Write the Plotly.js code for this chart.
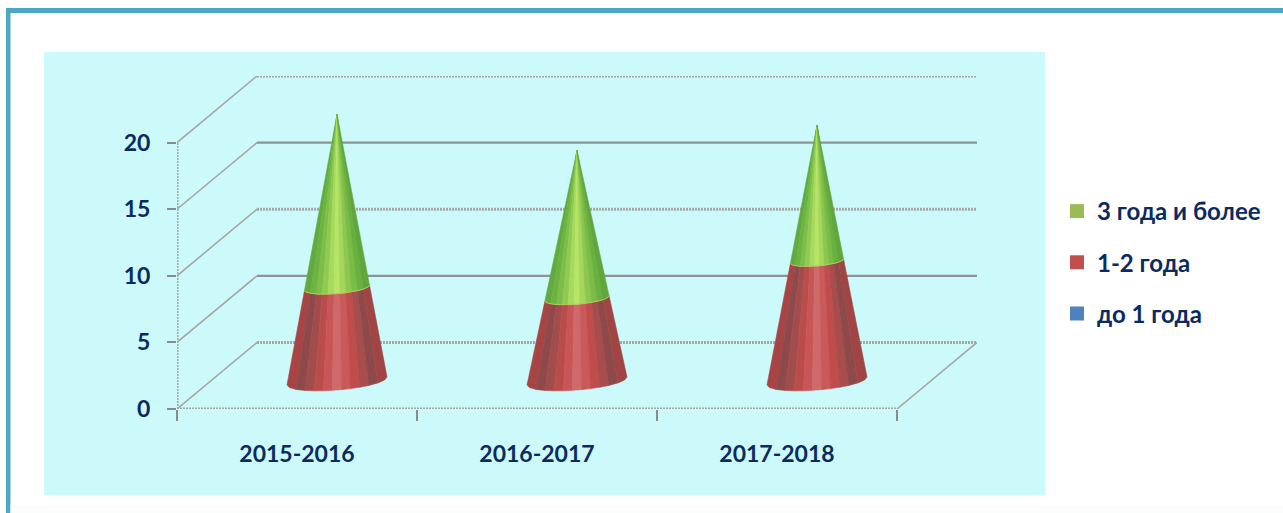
<!DOCTYPE html>
<html><head><meta charset="utf-8">
<script src="https://cdn.plot.ly/plotly-3.0.1.min.js"></script>
<style>html,body{margin:0;padding:0;background:#fff}</style></head>
<body><div id="chart" style="width:1283px;height:513px"></div>
<script>
const categories = ['2015-2016','2016-2017','2017-2018'];
const under1 = [0,0,0];
const oneToTwo = [7,6.2,9];
const threePlus = [13,11.1,10.2];
const yTicks = [0,5,10,15,20];
const seriesNames = ['3 года и более','1-2 года','до 1 года'];
const legendColors = ['#9bbb59','#c0504d','#4f81bd'];
const redShade = ['#a84444','#8e4a4a','#a24c4c','#bb4c4c','#c85656','#cf6a6a','#ca5a5a','#c04c4c','#a84c4c','#8e4a4a','#a04444'];
const greenShade = ['#62aa3e','#6cb342','#7cbe48','#90cb50','#a6da5c','#b8e466','#a4d85a','#8dc84e','#7abc46','#6ab041','#61a63c'];

const W=1283,H=513,L=177,R=977,T=76,B=409;
const xr=[0,(R-L)/240], yr=[0,25];
const unit=(B-T)/25;
const dx=80/240, dy=5;             // depth of the 3-D box, in axis units
const coneOffX=dx/2, baseY=2.1;
const Rx=50/240, By=9/unit, tilt=4/unit;
const navy='#0b2a60', wavy='#a6a6a6', solid='#8d9394';

const traces=[];
function line(x,y,color,width,dash){
  traces.push({type:'scatter',mode:'lines',x,y,showlegend:false,hoverinfo:'skip',cliponaxis:false,
    line:{color,width,dash:dash||'solid'}});
}
// back wall
[5,10,15,20,25].forEach((v,i)=>{
  if(i%2===0) line([dx,xr[1]+0.012],[v,v],wavy,3,'2px,1px');
  else line([dx,xr[1]],[v,v],solid,2.2);
});
// side wall diagonals
yTicks.forEach(v=>line([0,dx],[v,v+dy],wavy,1.6));
// floor and front axes
line([0,0],[0,20],wavy,3,'2px,1px');
line([0,categories.length],[0,0],wavy,3,'2px,1px');
line([categories.length,xr[1]],[0,dy],wavy,1.6);

function conePoint(cx,total,t,v){
  const f=1-v/total;
  return [cx+coneOffX+Rx*f*Math.cos(t), baseY+v-By*f*Math.sin(t)+tilt*f*Math.cos(t)];
}
function band(cx,total,v0,v1,shade){
  const n=shade.length;
  // walk from left edge (t=PI) to right edge (t=0) along the front of the cone
  for(let i=0;i<n;i++){
    const ta=Math.acos(-1+2*i/n), tb=Math.acos(-1+2*(i+1)/n);
    const seg=[ta,(ta+tb)/2,tb];
    const xs=[],ys=[];
    seg.forEach(t=>{const p=conePoint(cx,total,t,v0);xs.push(p[0]);ys.push(p[1]);});
    seg.slice().reverse().forEach(t=>{const p=conePoint(cx,total,t,v1);xs.push(p[0]);ys.push(p[1]);});
    xs.push(xs[0]);ys.push(ys[0]);
    traces.push({type:'scatter',mode:'lines',x:xs,y:ys,fill:'toself',fillcolor:shade[i],
      line:{color:shade[i],width:0.6},showlegend:false,hoverinfo:'skip',cliponaxis:false});
  }
}
categories.forEach((c,i)=>{
  const cx=i+0.5, total=under1[i]+oneToTwo[i]+threePlus[i], split=under1[i]+oneToTwo[i];
  band(cx,total,under1[i],split,redShade);
  band(cx,total,split,total,greenShade);
  // pale seam between the two sections
  const sx=[],sy=[];
  for(let k=0;k<=16;k++){const p=conePoint(cx,total,Math.PI*(1-k/16),split);sx.push(p[0]);sy.push(p[1]);}
  line(sx,sy,'#b9c65e',1);
});
// legend entries
seriesNames.forEach((s,i)=>traces.push({type:'scatter',mode:'markers',x:[null],y:[null],name:s,
  legendgroup:'g'+i,marker:{symbol:'square',size:14,color:legendColors[i]}}));

const tickFont={family:'Lato, sans-serif',size:23,color:navy,weight:700};
const layout={
  width:W,height:H,margin:{l:L,r:W-R,t:T,b:H-B,pad:0},
  paper_bgcolor:'#ffffff',plot_bgcolor:'rgba(0,0,0,0)',hovermode:false,
  font:{family:'Lato, "Open Sans", sans-serif',size:23,color:navy,weight:700},
  xaxis:{range:xr,tickmode:'array',tickvals:categories.map((c,i)=>i+0.5),ticktext:categories,
    ticks:'',showgrid:false,zeroline:false,showline:false,ticklabelstandoff:29,tickfont:tickFont,
    minor:{tickvals:[0,1,2,3],ticks:'outside',ticklen:11,tickwidth:2,tickcolor:'#8a8a8a',showgrid:false}},
  yaxis:{range:yr,tickmode:'array',tickvals:yTicks,ticktext:yTicks.map(String),
    ticks:'outside',ticklen:9,tickwidth:2,tickcolor:'#8a8a8a',showgrid:false,zeroline:false,showline:false,
    ticklabelstandoff:12,tickfont:tickFont},
  legend:{x:(1057-L)/(R-L),y:1-(189-T)/(B-T),xanchor:'left',yanchor:'top',bgcolor:'rgba(0,0,0,0)',
    tracegroupgap:17,traceorder:'grouped',itemclick:false,itemdoubleclick:false,
    font:{family:'Lato, sans-serif',size:24,color:navy,weight:700}},
  shapes:[
    {type:'rect',xref:'paper',yref:'paper',layer:'below',x0:(6-L)/(R-L),x1:(W+5-L)/(R-L),y0:(B-(H+5))/(B-T),y1:(B-8)/(B-T),
      line:{width:0},fillcolor:'#4ea6c5'},
    {type:'rect',xref:'paper',yref:'paper',layer:'below',x0:(10.5-L)/(R-L),x1:(W+5-L)/(R-L),y0:(B-(H+5))/(B-T),y1:(B-13)/(B-T),
      line:{width:0},fillcolor:'#ffffff'},
    {type:'rect',xref:'paper',yref:'paper',layer:'below',x0:(10.5-L)/(R-L),x1:(W+5-L)/(R-L),y0:(B-(H+5))/(B-T),y1:(B-505)/(B-T),
      line:{width:0},fillcolor:'#fbfdfd'},
    {type:'rect',xref:'paper',yref:'paper',layer:'below',x0:(44-L)/(R-L),x1:(1045-L)/(R-L),y0:(B-495)/(B-T),y1:(B-52)/(B-T),
      line:{width:0},fillcolor:'#ccf9fa'}
  ]
};
Plotly.newPlot('chart',traces,layout,{displayModeBar:false,responsive:false});
</script></body></html>
